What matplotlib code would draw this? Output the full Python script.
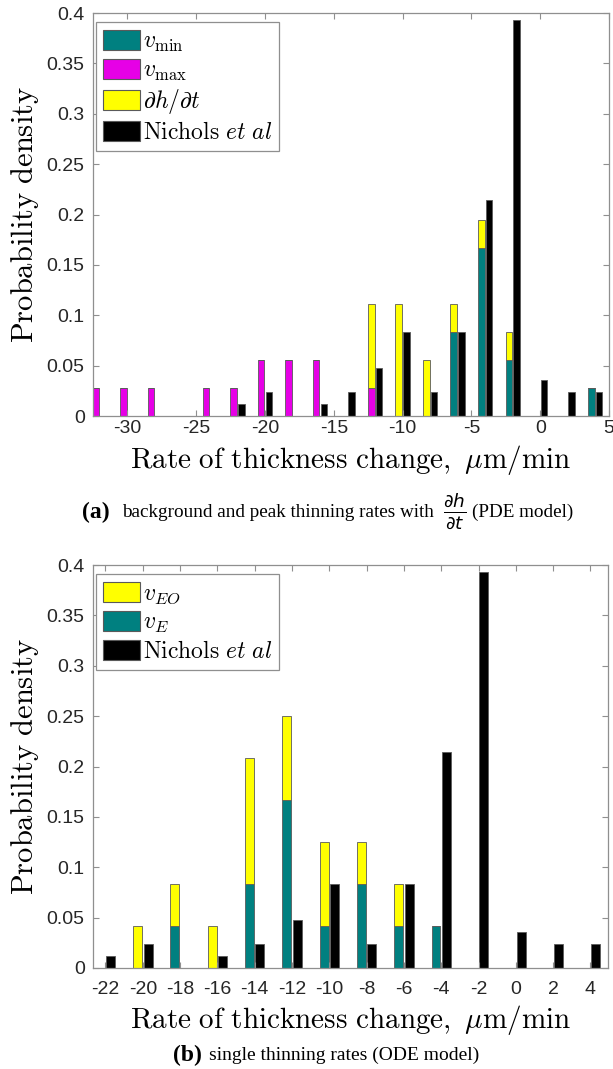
import matplotlib
matplotlib.use("Agg")
import matplotlib.pyplot as plt
from matplotlib.patches import Patch
import numpy as np

plt.rcParams["mathtext.fontset"] = "cm"
plt.rcParams["axes.unicode_minus"] = False

# (a) PDE model -- bin centres (um/min) and probability in each bin
bins_a = [-32, -30, -28, -26, -24, -22, -20, -18, -16, -14, -12, -10, -8, -6, -4, -2, 0, 2, 4]
v_min_a = [0, 0, 0, 0, 0, 0, 0, 0, 0, 0, 0, 0, 0, 0.0833, 0.1667, 0.0556, 0, 0, 0.0278]
v_max_a = [0.0278, 0.0278, 0.0278, 0, 0.0278, 0.0278, 0.0556, 0.0556, 0.0556, 0, 0.0278, 0, 0, 0, 0, 0, 0, 0, 0]
dhdt_a = [0, 0, 0, 0, 0, 0, 0, 0, 0, 0, 0.0833, 0.1111, 0.0556, 0.0278, 0.0278, 0.0278, 0, 0, 0]
nichols_a = [0, 0, 0, 0, 0, 0.0119, 0.0238, 0, 0.0119, 0.0238, 0.0476, 0.0833, 0.0238, 0.0833,
             0.2143, 0.3929, 0.0357, 0.0238, 0.0238]
xticks_a = [-30, -25, -20, -15, -10, -5, 0, 5]

# (b) ODE model
bins_b = [-22, -20, -18, -16, -14, -12, -10, -8, -6, -4, -2, 0, 2, 4]
v_e_b = [0, 0, 0.0417, 0, 0.0833, 0.1667, 0.0417, 0.0833, 0.0417, 0.0417, 0, 0, 0, 0]
v_eo_b = [0, 0.0417, 0.0417, 0.0417, 0.125, 0.0833, 0.0833, 0.0417, 0.0417, 0, 0, 0, 0, 0]
nichols_b = [0.0119, 0.0238, 0, 0.0119, 0.0238, 0.0476, 0.0833, 0.0238, 0.0833, 0.2143,
             0.3929, 0.0357, 0.0238, 0.0238]

yticks = [0, 0.05, 0.1, 0.15, 0.2, 0.25, 0.3, 0.35, 0.4]

TEAL = "#008080"
MAGENTA = "#e600e6"
YELLOW = "#ffff00"
BLACK = "#000000"
EDGE = "#5a5a5a"
SPINE = "#8f8f8f"
TICKTXT = "#262626"

BAR_W = 0.48
OFFSET = 0.28
TICK_FONT = "Liberation Sans"

W, H = 613, 1069
fig = plt.figure(figsize=(W / 100, H / 100), dpi=100)


def frac_box(left, top, right, bottom):
    return [left / W, 1 - bottom / H, (right - left) / W, (bottom - top) / H]


ax1 = fig.add_axes(frac_box(93, 13, 609, 416))
ax2 = fig.add_axes(frac_box(93, 565, 608, 968))


def style_axes(ax, xlim, xticks, xpad):
    ax.set_xlim(*xlim)
    ax.set_ylim(0, 0.4)
    ax.set_xticks(xticks)
    ax.set_xticklabels([f"{t:g}" for t in xticks])
    ax.set_yticks(yticks)
    ax.set_yticklabels([f"{t:g}" for t in yticks])
    for s in ax.spines.values():
        s.set_color(SPINE)
        s.set_linewidth(0.9)
    ax.tick_params(direction="in", length=4, width=0.8, color=SPINE,
                   top=True, right=True, labelcolor=TICKTXT, labelsize=14)
    ax.tick_params(axis="x", pad=xpad)
    ax.tick_params(axis="y", pad=6)
    for lab in ax.get_xticklabels() + ax.get_yticklabels():
        lab.set_fontfamily(TICK_FONT)
    ax.set_ylabel(r"$\mathrm{Probability\ density}$", fontsize=22, labelpad=4)
    ax.set_xlabel(r"$\mathrm{Rate\ of\ thickness\ change,\ }\mu\mathrm{m/min}$",
                  fontsize=21, labelpad=4)


bar_kw = dict(width=BAR_W, edgecolor=EDGE, linewidth=0.6)

# ---- panel (a): stacked model bars next to the measured distribution
xa = np.array(bins_a, dtype=float)
vmin = np.array(v_min_a)
vmax = np.array(v_max_a)
dhdt = np.array(dhdt_a)
ax1.bar(xa - OFFSET, vmin, color=TEAL, **bar_kw)
ax1.bar(xa - OFFSET, vmax, bottom=vmin, color=MAGENTA, **bar_kw)
ax1.bar(xa - OFFSET, dhdt, bottom=vmin + vmax, color=YELLOW, **bar_kw)
ax1.bar(xa + OFFSET, nichols_a, color=BLACK, **bar_kw)
style_axes(ax1, (-32.5, 5), xticks_a, 3)

leg_kw = dict(loc="upper left", borderaxespad=0, fancybox=False, framealpha=1,
              edgecolor=SPINE, fontsize=17, handlelength=1.55, handleheight=0.95,
              handletextpad=0.12, labelspacing=0.17, borderpad=0.3)
handles_a = [Patch(facecolor=TEAL, edgecolor=EDGE, linewidth=0.8),
             Patch(facecolor=MAGENTA, edgecolor=EDGE, linewidth=0.8),
             Patch(facecolor=YELLOW, edgecolor=EDGE, linewidth=0.8),
             Patch(facecolor=BLACK, edgecolor=EDGE, linewidth=0.8)]
labels_a = [r"$v_{\min}$", r"$v_{\max}$", r"$\partial h/\partial t$",
            r"$\mathrm{Nichols}\ et\ al$"]
lg1 = ax1.legend(handles_a, labels_a, bbox_to_anchor=(0.006, 0.978), **leg_kw)
lg1.get_frame().set_linewidth(0.9)

# ---- panel (b)
xb = np.array(bins_b, dtype=float)
ve = np.array(v_e_b)
veo = np.array(v_eo_b)
ax2.bar(xb - OFFSET, ve, color=TEAL, **bar_kw)
ax2.bar(xb - OFFSET, veo, bottom=ve, color=YELLOW, **bar_kw)
ax2.bar(xb + OFFSET, nichols_b, color=BLACK, **bar_kw)
style_axes(ax2, (-22.67, 4.94), bins_b, 9)

handles_b = [Patch(facecolor=YELLOW, edgecolor=EDGE, linewidth=0.8),
             Patch(facecolor=TEAL, edgecolor=EDGE, linewidth=0.8),
             Patch(facecolor=BLACK, edgecolor=EDGE, linewidth=0.8)]
labels_b = [r"$v_{EO}$", r"$v_E$", r"$\mathrm{Nichols}\ et\ al$"]
lg2 = ax2.legend(handles_b, labels_b, bbox_to_anchor=(0.006, 0.978), **leg_kw)
lg2.get_frame().set_linewidth(0.9)

# ---- sub-figure captions
SERIF = "Liberation Serif"


def px(x, y):
    return x / W, 1 - y / H


fig.text(*px(82, 518), "(a)", fontfamily=SERIF, fontweight="bold", fontsize=17,
         ha="left", va="baseline")
fig.text(*px(122, 517), "background and peak thinning rates with", fontfamily=SERIF,
         fontsize=13.8, ha="left", va="baseline")
fig.text(*px(455, 511), r"$\frac{\partial h}{\partial t}$", fontsize=19,
         math_fontfamily="dejavusans", ha="center", va="center")
fig.text(*px(472, 517), "(PDE model)", fontfamily=SERIF, fontsize=13.8,
         ha="left", va="baseline")

fig.text(*px(173, 1061), "(b)", fontfamily=SERIF, fontweight="bold", fontsize=17,
         ha="left", va="baseline")
fig.text(*px(209, 1060), "single thinning rates (ODE model)", fontfamily=SERIF,
         fontsize=14, ha="left", va="baseline")

fig.savefig("out.png", dpi=100, facecolor="white")
